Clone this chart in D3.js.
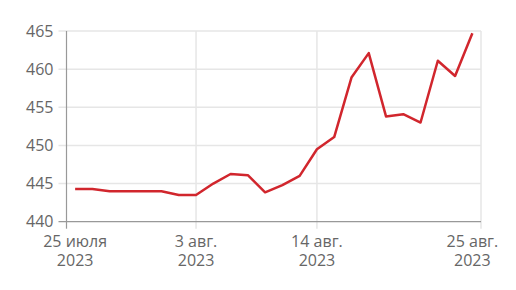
<!DOCTYPE html>
<html>
<head>
<meta charset="utf-8">
<script src="https://cdn.jsdelivr.net/npm/d3@7"></script>
<style>
  body { margin: 0; background: #fff; }
  text { font-family: "Open Sans", sans-serif; fill: #666; }
</style>
</head>
<body>
<script>
// trading days, 25 Jul - 25 Aug 2023
const dates = ["2023-07-25","2023-07-26","2023-07-27","2023-07-28","2023-07-31",
  "2023-08-01","2023-08-02","2023-08-03","2023-08-04","2023-08-07","2023-08-08",
  "2023-08-09","2023-08-10","2023-08-11","2023-08-14","2023-08-15","2023-08-16",
  "2023-08-17","2023-08-18","2023-08-21","2023-08-22","2023-08-23","2023-08-24",
  "2023-08-25"];
const values = [444.3, 444.3, 444.0, 444.0, 444.0, 444.0, 443.5, 443.5, 445.0, 446.25,
  446.1, 443.85, 444.8, 446.0, 449.5, 451.1, 458.9, 462.1, 453.8, 454.1, 453.0,
  461.1, 459.1, 464.7];
const yTicks = [440, 445, 450, 455, 460, 465];
const labelDates = ["2023-07-25", "2023-08-03", "2023-08-14", "2023-08-25"];
const labelTexts = [["25 июля", "2023"], ["3 авг.", "2023"], ["14 авг.", "2023"], ["25 авг.", "2023"]];

let width = 516, height = 290;
let mLeft = 66.5, mRight = 481, mTop = 31, mBottom = 221.7;

let svg = d3.select("body").append("svg")
    .attr("width", width)
    .attr("height", height);

let x = d3.scaleBand().domain(dates).range([mLeft, mRight]).padding(0);
let cx = d => x(d) + x.bandwidth() / 2;
let y = d3.scaleLinear().domain([440, 465]).range([mBottom, mTop]);

// horizontal grid
svg.append("g").selectAll("line")
    .data(yTicks.slice(1))
    .enter().append("line")
    .attr("x1", mLeft - 8).attr("x2", mRight)
    .attr("y1", d => y(d)).attr("y2", d => y(d))
    .attr("stroke", "#e6e6e6").attr("stroke-width", 1.5);

// vertical grid at middle label dates + right edge
let vx = [cx(labelDates[1]), cx(labelDates[2]), mRight];
svg.append("g").selectAll("line")
    .data(vx)
    .enter().append("line")
    .attr("x1", d => d).attr("x2", d => d)
    .attr("y1", mTop).attr("y2", mBottom + 7)
    .attr("stroke", "#e6e6e6").attr("stroke-width", 1.5);

// axes
svg.append("line")
    .attr("x1", mLeft).attr("x2", mLeft)
    .attr("y1", mTop).attr("y2", mBottom + 7)
    .attr("stroke", "#999").attr("stroke-width", 1.2);
svg.append("line")
    .attr("x1", mLeft - 8).attr("x2", mRight)
    .attr("y1", mBottom).attr("y2", mBottom)
    .attr("stroke", "#999").attr("stroke-width", 1.2);

// y labels
svg.append("g").selectAll("text")
    .data(yTicks)
    .enter().append("text")
    .attr("x", 53.5)
    .attr("y", d => y(d))
    .attr("dy", "0.36em")
    .attr("text-anchor", "end")
    .style("font-size", "16px")
    .text(d => d);

// x labels
let xl = svg.append("g").selectAll("text")
    .data(labelDates)
    .enter().append("text")
    .attr("text-anchor", "middle")
    .style("font-size", "16px");
xl.each(function(d, i) {
  let t = d3.select(this);
  labelTexts[i].forEach((s, j) => {
    t.append("tspan").attr("x", cx(d)).attr("y", 247 + j * 19).text(s);
  });
});

// line
let line = d3.line()
    .x((d, i) => cx(dates[i]))
    .y(d => y(d));
svg.append("path")
    .datum(values)
    .attr("d", line)
    .attr("fill", "none")
    .attr("stroke", "#d1262d")
    .attr("stroke-width", 2.5)
    .attr("stroke-linejoin", "round");
</script>
</body>
</html>
